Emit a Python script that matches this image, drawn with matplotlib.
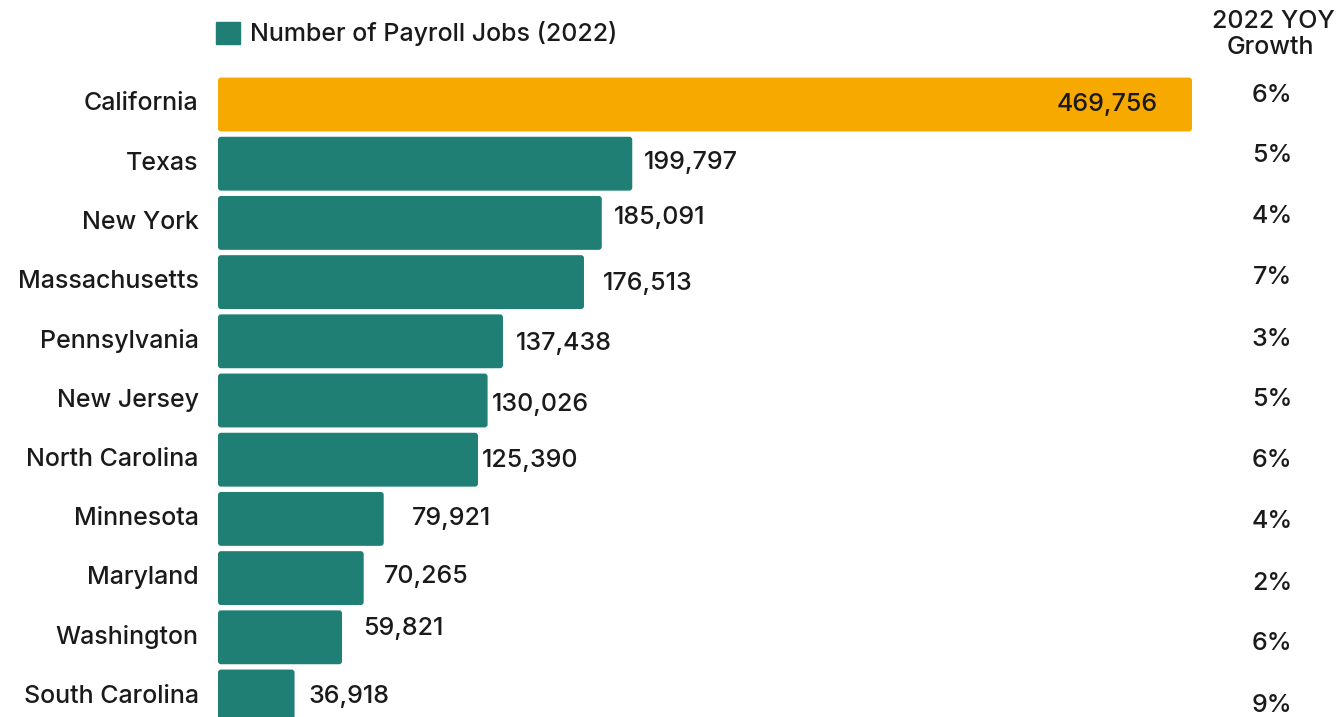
import numpy as np
import matplotlib.pyplot as plt
import matplotlib.transforms as mtransforms
from matplotlib.patches import FancyBboxPatch

# datos de empleos por estado
states = ["California", "Texas", "New York", "Massachusetts", "Pennsylvania",
          "New Jersey", "North Carolina", "Minnesota", "Maryland",
          "Washington", "South Carolina"]
jobs = [469756, 199797, 185091, 176513, 137438, 130026, 125390,
        79921, 70265, 59821, 36918]
growth = ["6%", "5%", "4%", "7%", "3%", "5%", "6%", "4%", "2%", "6%", "9%"]

# ajustes finos de las etiquetas (pixeles)
label_dx = [0, 12, 12, 19, 13, 4, 4, 28, 20, 21, 14]
label_dy = [0, 1, 5, -1, -2, -4, -1, 0, 2, 9, 0]

teal = "#1f7f75"
orange = "#f8a900"
ink = "#1a1a1a"
fs = 18

plt.rcParams['font.family'] = ['Inter', 'DejaVu Sans']
plt.rcParams['font.weight'] = 500

W, H = 1341, 717
fig = plt.figure(figsize=(W / 100, H / 100), dpi=100)

# eje: 0 en x=218px, California termina en x=1192px
x0_px = 218
px_per_unit = (1192 - x0_px) / jobs[0]
xmax = 480000
ax = fig.add_axes([x0_px / W, 0, xmax * px_per_unit / W, 1])
step = 59.2
ax.set_xlim(0, xmax)
ax.set_ylim((H - 104.5) / step, -104.5 / step)

y = np.arange(len(states))
colors = [orange] + [teal] * (len(states) - 1)
bars = ax.barh(y, jobs, height=0.91, color=colors)

# esquinas redondeadas
r_x = 3 / px_per_unit
r_y = 3 / step
for b in bars:
    bx, by = b.get_xy()
    fb = FancyBboxPatch((bx, by), b.get_width(), b.get_height(),
                        boxstyle="round,pad=0,rounding_size=%f" % r_x,
                        mutation_aspect=r_y / r_x,
                        facecolor=b.get_facecolor(), edgecolor="none")
    b.set_visible(False)
    ax.add_patch(fb)

ax.set_yticks(y)
ax.set_yticklabels(states, fontsize=fs, color=ink)
ax.tick_params(axis="y", length=0, pad=14)
ax.set_xticks([])
for s in ax.spines.values():
    s.set_visible(False)

# subir un poco los nombres de los estados
shift = mtransforms.ScaledTranslation(0, 3 / 100, fig.dpi_scale_trans)
for lbl in ax.get_yticklabels():
    lbl.set_transform(lbl.get_transform() + shift)

# valores
for i, v in enumerate(jobs):
    txt = f"{v:,}"
    if i == 0:
        ax.annotate(txt, (v, i), xytext=(-34, 0), textcoords="offset pixels",
                    ha="right", va="center", fontsize=fs, color=ink)
    else:
        ax.annotate(txt, (v, i), xytext=(label_dx[i], label_dy[i]),
                    textcoords="offset pixels", ha="left", va="center",
                    fontsize=fs, color=ink)

# columna de crecimiento
fig.text(1273 / W, 1 - 22 / H, "2022 YOY", ha="center", va="center",
         fontsize=fs, color=ink)
fig.text(1270 / W, 1 - 47 / H, "Growth", ha="center", va="center",
         fontsize=fs, color=ink)
for i, g in enumerate(growth):
    fig.text(1272 / W, 1 - (95 + 61 * i) / H, g, ha="center", va="center",
             fontsize=fs, color=ink)

# leyenda
leg = ax.legend(handles=[plt.Rectangle((0, 0), 1, 1, color=teal)],
                labels=["Number of Payroll Jobs (2022)"],
                loc="center left", bbox_to_anchor=(216 / W, 1 - 34 / H),
                bbox_transform=fig.transFigure, frameon=False,
                fontsize=fs, handlelength=0.95, handleheight=0.95,
                handletextpad=0.4, borderpad=0, borderaxespad=0)
for t in leg.get_texts():
    t.set_color(ink)

fig.savefig("out.png", dpi=100)
